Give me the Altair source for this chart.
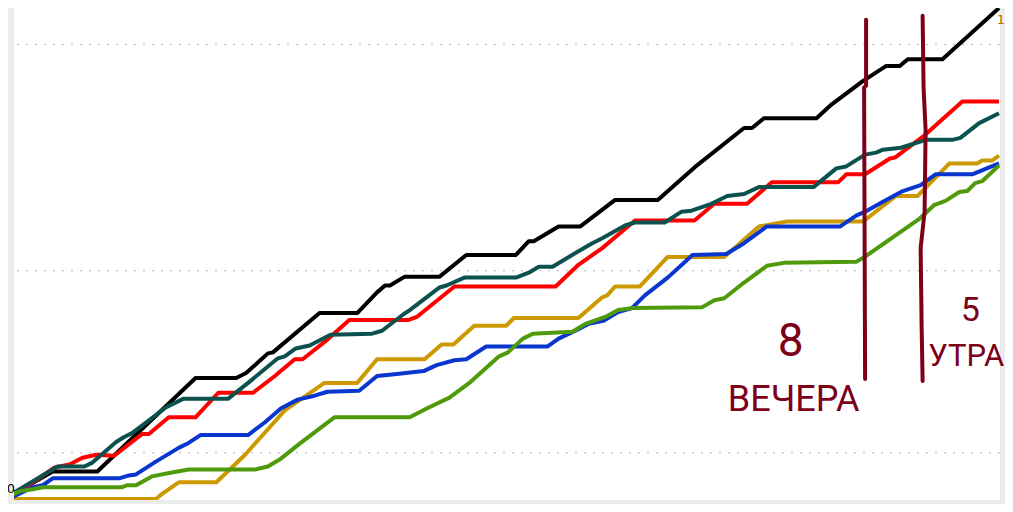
import pandas as pd
import altair as alt

# series readings: t = time step, v = cumulative level (0..500 == 0..1)
black_t = [0, 45, 90, 189, 230, 240, 262, 267, 314, 352, 372, 380, 385, 400, 435, 462, 512, 525, 530, 555,
           577, 612, 655, 692, 742, 750, 762, 815, 829, 862, 885, 899, 907, 942, 999]
black_v = [3, 29, 29, 124, 124, 129, 149, 150, 190, 190, 211, 218, 218, 227, 227, 249, 249, 263, 263, 278,
           278, 305, 305, 338, 378, 378, 388, 388, 401, 426, 441, 441, 448, 448, 500]

red_t = [0, 47, 62, 75, 89, 107, 135, 142, 162, 189, 212, 247, 269, 289, 297, 322, 344, 404, 412, 450,
         552, 575, 599, 632, 692, 712, 745, 770, 837, 845, 864, 889, 894, 922, 962, 999]
red_v = [1, 33, 36, 43, 46, 45, 67, 67, 84, 84, 109, 109, 126, 143, 143, 163, 183, 183, 186, 217,
         217, 239, 256, 284, 284, 301, 301, 323, 323, 331, 331, 347, 348, 369, 405, 405]

teal_t = [0, 50, 77, 85, 109, 117, 125, 159, 177, 222, 242, 272, 279, 290, 304, 325, 367, 377, 399, 405,
          435, 442, 460, 512, 525, 535, 549, 572, 589, 599, 622, 632, 662, 679, 689, 709, 725, 742, 757, 812,
          835, 845, 864, 875, 882, 900, 919, 925, 952, 960, 979, 999]
teal_v = [4, 34, 34, 38, 59, 64, 68, 94, 103, 103, 119, 144, 146, 154, 157, 168, 169, 172, 189, 193,
          216, 218, 226, 226, 231, 237, 237, 251, 261, 266, 279, 282, 282, 293, 294, 301, 309, 311, 318, 318,
          337, 339, 351, 353, 356, 358, 364, 366, 366, 368, 383, 393]

gold_t = [0, 149, 155, 172, 210, 239, 255, 279, 319, 352, 372, 420, 437, 449, 470, 502, 510, 575, 599, 604,
          612, 637, 665, 722, 757, 785, 862, 895, 917, 949, 977, 982, 992, 999]
gold_v = [1, 1, 6, 18, 18, 46, 64, 91, 119, 119, 143, 143, 158, 158, 177, 177, 185, 185, 206, 208,
          217, 217, 247, 247, 278, 283, 283, 309, 309, 342, 342, 345, 345, 350]

blue_t = [0, 25, 35, 45, 112, 122, 129, 149, 172, 182, 194, 242, 259, 275, 292, 309, 322, 354, 372, 392,
          419, 432, 450, 462, 482, 544, 555, 572, 585, 600, 615, 629, 642, 665, 690, 724, 742, 765, 839, 855,
          864, 882, 902, 920, 935, 972, 999]
blue_v = [1, 13, 15, 22, 22, 25, 26, 39, 53, 58, 66, 66, 79, 93, 102, 106, 110, 111, 126, 128,
          131, 137, 142, 143, 156, 156, 164, 172, 179, 182, 191, 195, 208, 226, 249, 250, 261, 278, 278, 289,
          293, 303, 314, 320, 331, 331, 342]

green_t = [0, 12, 25, 35, 115, 120, 129, 145, 165, 182, 249, 262, 275, 295, 312, 329, 405, 422, 445, 465,
           495, 504, 519, 529, 569, 582, 602, 615, 629, 700, 712, 722, 742, 765, 782, 855, 865, 902, 919, 934,
           945, 959, 967, 975, 982, 999]
green_v = [3, 9, 11, 13, 13, 15, 15, 24, 28, 31, 31, 34, 42, 58, 71, 84, 84, 93, 104, 119,
           146, 150, 164, 169, 171, 179, 186, 193, 195, 196, 203, 205, 221, 238, 241, 242, 248, 274, 286, 300,
           304, 313, 314, 322, 324, 340]

series_names = ["black", "red", "teal", "gold", "blue", "green"]
series_colors = ["#000000", "#ff0000", "#0b524e", "#cc9900", "#0a36d0", "#4e9a0a"]

grid_levels = [463, 233, 48]

# hand-drawn marker strokes
mark8_t = [865, 865, 863, 864]
mark8_v = [488, 421, 419, 123]
mark5_t = [922, 923, 925, 924, 920, 921, 922]
mark5_v = [492, 418, 376, 293, 256, 176, 121]

notes = ["8", "ВЕЧЕРА", "5", "УТРА"]
notes_t = [789, 792, 970, 966]
notes_v = [146, 90, 182, 136]
notes_size = [46, 36, 34, 31]

rows = []
for name, ts, vs in zip(series_names,
                        [black_t, red_t, teal_t, gold_t, blue_t, green_t],
                        [black_v, red_v, teal_v, gold_v, blue_v, green_v]):
    for i, (t, v) in enumerate(zip(ts, vs)):
        rows.append({"series": name, "t": t, "v": v, "i": i})
df = pd.DataFrame(rows)

strokes = pd.concat([
    pd.DataFrame({"id": "8pm", "t": mark8_t, "v": mark8_v, "i": range(len(mark8_t))}),
    pd.DataFrame({"id": "5am", "t": mark5_t, "v": mark5_v, "i": range(len(mark5_t))}),
], ignore_index=True)

notes_df = pd.DataFrame({"label": notes, "t": notes_t, "v": notes_v, "size": notes_size})

xs = alt.Scale(domain=[6, 1000])
ys = alt.Scale(domain=[0, 500])

grid = alt.Chart(pd.DataFrame({"v": grid_levels})).mark_rule(
    color="#b4b4b4", strokeWidth=1, strokeDash=[2, 7]
).encode(y=alt.Y("v:Q", scale=ys, axis=None))

lines = alt.Chart(df).mark_line(strokeWidth=4, clip=True, strokeJoin="round").encode(
    x=alt.X("t:Q", scale=xs, axis=None),
    y=alt.Y("v:Q", scale=ys, axis=None),
    color=alt.Color("series:N", scale=alt.Scale(domain=series_names, range=series_colors), legend=None),
    order="i:Q",
)

marker = alt.Chart(strokes).mark_line(strokeWidth=4, color="#7d0019", strokeCap="round").encode(
    x=alt.X("t:Q", scale=xs, axis=None),
    y=alt.Y("v:Q", scale=ys, axis=None),
    detail="id:N",
    order="i:Q",
)

note_text = alt.Chart(notes_df).mark_text(
    color="#7d0019", font="Roboto", baseline="alphabetic", align="center"
).encode(
    x=alt.X("t:Q", scale=xs, axis=None),
    y=alt.Y("v:Q", scale=ys, axis=None),
    text="label:N",
    size=alt.Size("size:Q", scale=None, legend=None),
)

zero_label = alt.Chart(pd.DataFrame({"t": [7], "v": [11], "label": ["0"]})).mark_text(
    align="right", baseline="middle", fontSize=13, font="DejaVu Sans", color="#000000"
).encode(x=alt.X("t:Q", scale=xs), y=alt.Y("v:Q", scale=ys), text="label:N")

one_label = alt.Chart(pd.DataFrame({"t": [1005], "v": [488], "label": ["1"]})).mark_text(
    align="right", baseline="middle", fontSize=13, font="DejaVu Sans", color="#b36b00"
).encode(x=alt.X("t:Q", scale=xs), y=alt.Y("v:Q", scale=ys), text="label:N")

chart = alt.layer(grid, lines, marker, note_text, zero_label, one_label).properties(
    width=986, height=492,
    padding={"left": 6, "top": 0, "right": 5, "bottom": 4},
    autosize=alt.AutoSizeParams(type="none"),
    background="#ececec",
).configure_view(fill="white", strokeWidth=0)

chart.save("out.html", embed_options={"renderer": "svg", "actions": False})
